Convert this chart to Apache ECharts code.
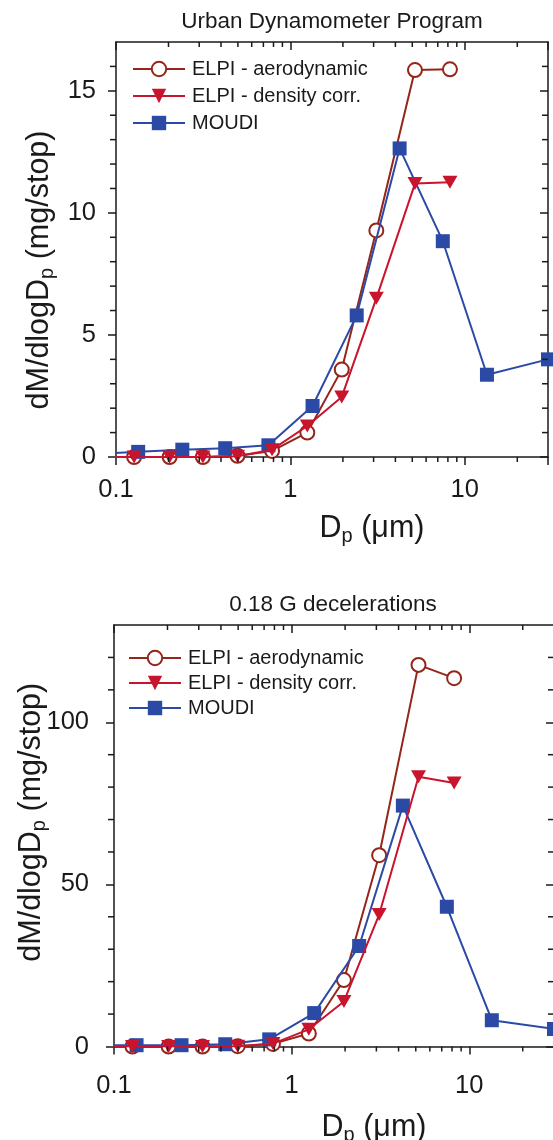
<!DOCTYPE html>
<html>
<head>
<meta charset="utf-8">
<script src="https://cdn.jsdelivr.net/npm/echarts@6/dist/echarts.min.js"></script>
<style>
  html, body { margin: 0; padding: 0; background: #fff; }
  #chart { width: 553px; height: 1140px; }
</style>
</head>
<body>
<div id="chart"></div>
<script>
// Stage midpoint diameters (µm)
const elpiSizes  = [0.0736, 0.127, 0.203, 0.315, 0.497, 0.785, 1.25, 1.97, 3.11, 5.18, 8.22];
const moudiSizes = [0.0748, 0.134, 0.24, 0.423, 0.748, 1.34, 2.4, 4.23, 7.48, 13.4, 30];

// Urban Dynamometer Program, dM/dlogDp (mg/stop)
const udpAero    = [0, 0, 0, 0, 0.05, 0.25, 1.0, 3.58, 9.28, 15.85, 15.88];
const udpDensity = [0, 0, 0, 0, 0.03, 0.3, 1.27, 2.46, 6.5, 11.2, 11.25];
const udpMoudi   = [0.13, 0.21, 0.3, 0.36, 0.48, 2.09, 5.8, 12.64, 8.84, 3.37, 4.0];

// 0.18 G decelerations, dM/dlogDp (mg/stop)
const decAero    = [0, 0, 0, 0, 0.1, 0.8, 4.0, 20.5, 59.0, 117.7, 113.6];
const decDensity = [0, 0, 0, 0, 0.1, 0.9, 5.3, 13.9, 40.7, 83.2, 81.3];
const decMoudi   = [0.3, 0.4, 0.4, 0.7, 2.2, 10.3, 31.0, 74.3, 43.1, 8.1, 5.4];

const panelTitles = ['Urban Dynamometer Program', '0.18 G decelerations'];
const seriesNames = ['ELPI - aerodynamic', 'ELPI - density corr.', 'MOUDI'];

const xRange = [0.1, 30];
const xTickValues = [0.1, 1, 10];
const xTickLabels = ['0.1', '1', '10'];
const xMinorTicks = [0.2, 0.3, 0.4, 0.5, 0.6, 0.7, 0.8, 0.9, 2, 3, 4, 5, 6, 7, 8, 9, 20];

const udpYRange = [0, 17];
const udpYTicks = [0, 5, 10, 15];
const udpYMinor = [1, 2, 3, 4, 6, 7, 8, 9, 11, 12, 13, 14, 16];

const decYRange = [0, 130];
const decYTicks = [0, 50, 100];
const decYMinor = [10, 20, 30, 40, 60, 70, 80, 90, 110, 120];

const FONT = '"Liberation Sans", Arial, Helvetica, sans-serif';
const INK = '#1a1a1a';
const AERO = '#952519';
const DENS = '#c8142c';
const MOUDI = '#2b4aa6';

const panels = [
  {
    title: panelTitles[0], aero: udpAero, density: udpDensity, moudi: udpMoudi,
    yRange: udpYRange, yTicks: udpYTicks, yMinor: udpYMinor,
    grid: { left: 116, top: 42, width: 432, height: 415 },
    titlePos: { left: 327, top: 5 },
    legendPos: { left: 127, top: 54, gap: 7 },
    yNamePad: [0, 41, 0, 0], yNameGap: 59, yLabelMargin: 20,
    xNameGap: 54, xLabelMargin: 20
  },
  {
    title: panelTitles[1], aero: decAero, density: decDensity, moudi: decMoudi,
    yRange: decYRange, yTicks: decYTicks, yMinor: decYMinor,
    grid: { left: 114, top: 625, width: 440, height: 421.5 },
    titlePos: { left: 328, top: 588 },
    legendPos: { left: 123, top: 643, gap: 5 },
    yNamePad: [0, 0, 0, 27], yNameGap: 65, yLabelMargin: 25,
    xNameGap: 64, xLabelMargin: 26
  }
];

const axisLine = { show: true, onZero: false, lineStyle: { color: INK, width: 1.5 } };
const nameRich = {
  main: { fontFamily: FONT, fontSize: 30.5, color: INK },
  sub: { fontFamily: FONT, fontSize: 20, color: INK, padding: [15, 0, 0, 0] }
};

const option = {
  animation: false,
  backgroundColor: '#fff',
  title: [], legend: [], grid: [], xAxis: [], yAxis: [], series: []
};

panels.forEach((p, i) => {
  option.title.push({
    text: p.title, left: p.titlePos.left, top: p.titlePos.top, textAlign: 'center',
    textStyle: { fontFamily: FONT, fontSize: 22.5, fontWeight: 'normal', color: INK }
  });
  option.grid.push(Object.assign({ containLabel: false, outerBoundsMode: 'none' }, p.grid));

  const xb = option.xAxis.length;
  option.xAxis.push({
    gridIndex: i, type: 'log', logBase: 10, min: xRange[0], max: xRange[1], position: 'bottom',
    axisLine, splitLine: { show: false },
    axisTick: { show: true, inside: false, length: 8, lineStyle: { color: INK, width: 1.5 } },
    axisLabel: {
      margin: p.xLabelMargin, fontFamily: FONT, fontSize: 25.5, color: INK,
      formatter: v => {
        const k = xTickValues.findIndex(t => Math.abs(Math.log10(v) - Math.log10(t)) < 1e-6);
        return k >= 0 ? xTickLabels[k] : '';
      }
    },
    name: '{main|D}{sub|p}{main| (μm)}', nameLocation: 'middle', nameGap: p.xNameGap,
    nameMoveOverlap: false,
    nameTextStyle: { rich: nameRich, padding: [0, 0, 0, 80] }
  });
  option.xAxis.push({
    gridIndex: i, type: 'log', logBase: 10, min: xRange[0], max: xRange[1], position: 'top',
    axisLine, splitLine: { show: false }, axisLabel: { show: false },
    axisTick: { show: true, inside: true, length: 8, lineStyle: { color: INK, width: 1.5 } }
  });

  const yl = option.yAxis.length;
  option.yAxis.push({
    gridIndex: i, type: 'value', min: p.yRange[0], max: p.yRange[1], position: 'left',
    axisLine, splitLine: { show: false },
    axisTick: { show: true, inside: false, length: 8, customValues: p.yTicks, lineStyle: { color: INK, width: 1.5 } },
    axisLabel: { margin: p.yLabelMargin, fontFamily: FONT, fontSize: 25.5, color: INK, customValues: p.yTicks },
    name: '{main|dM/dlogD}{sub|p}{main| (mg/stop)}', nameLocation: 'middle', nameRotate: 90,
    nameGap: p.yNameGap, nameMoveOverlap: false,
    nameTextStyle: { rich: nameRich, padding: p.yNamePad }
  });
  option.yAxis.push({
    gridIndex: i, type: 'value', min: p.yRange[0], max: p.yRange[1], position: 'right',
    axisLine, splitLine: { show: false }, axisLabel: { show: false },
    axisTick: { show: true, inside: true, length: 8, customValues: p.yTicks, lineStyle: { color: INK, width: 1.5 } }
  });

  const pair = (xs, ys) => xs.map((x, k) => [x, ys[k]]);
  option.series.push({
    name: seriesNames[0], type: 'line', xAxisIndex: xb, yAxisIndex: yl,
    data: pair(elpiSizes, p.aero), color: AERO,
    symbol: 'emptyCircle', symbolSize: 14,
    lineStyle: { color: AERO, width: 2 },
    itemStyle: { color: AERO, borderColor: AERO, borderWidth: 1.5 }, z: 2
  });
  option.series.push({
    name: seriesNames[2], type: 'line', xAxisIndex: xb, yAxisIndex: yl,
    data: pair(moudiSizes, p.moudi), color: MOUDI,
    symbol: 'rect', symbolSize: 14,
    lineStyle: { color: MOUDI, width: 2 },
    itemStyle: { color: MOUDI }, z: 3
  });
  option.series.push({
    name: seriesNames[1], type: 'line', xAxisIndex: xb, yAxisIndex: yl,
    data: pair(elpiSizes, p.density), color: DENS,
    symbol: 'triangle', symbolRotate: 180, symbolSize: [15, 13],
    lineStyle: { color: DENS, width: 2 },
    itemStyle: { color: DENS }, z: 4
  });

  // minor ticks on all four sides of the frame
  const yMin = p.yRange[0], yMax = p.yRange[1];
  const tickData = xMinorTicks.map(v => [v, yMin, 0]).concat(p.yMinor.map(v => [xRange[0], v, 1]));
  option.series.push({
    type: 'custom', xAxisIndex: xb, yAxisIndex: yl, silent: true, z: 6,
    dimensions: ['x', 'y', 'kind'], encode: { x: 0, y: 1 },
    data: tickData,
    renderItem: (params, api) => {
      const st = { stroke: INK, lineWidth: 1.5 };
      if (api.value(2) === 0) {
        const v = api.value(0);
        const b = api.coord([v, yMin]);
        const t = api.coord([v, yMax]);
        return { type: 'group', children: [
          { type: 'line', shape: { x1: b[0], y1: b[1], x2: b[0], y2: b[1] + 5 }, style: st },
          { type: 'line', shape: { x1: t[0], y1: t[1], x2: t[0], y2: t[1] + 5 }, style: st }
        ] };
      }
      const v = api.value(1);
      const l = api.coord([xRange[0], v]);
      const r = api.coord([xRange[1], v]);
      return { type: 'group', children: [
        { type: 'line', shape: { x1: l[0], y1: l[1], x2: l[0] - 6, y2: l[1] }, style: st },
        { type: 'line', shape: { x1: r[0], y1: r[1], x2: r[0] - 6, y2: r[1] }, style: st }
      ] };
    }
  });

  option.legend.push({
    data: seriesNames, orient: 'vertical', left: p.legendPos.left, top: p.legendPos.top,
    itemGap: p.legendPos.gap, itemWidth: 52, itemHeight: 18, selectedMode: false,
    textStyle: { fontFamily: FONT, fontSize: 20, color: INK, lineHeight: 20, padding: [0, 0, 0, 2] }
  });
});

const chart = echarts.init(document.getElementById('chart'));
chart.setOption(option);
</script>
</body>
</html>
